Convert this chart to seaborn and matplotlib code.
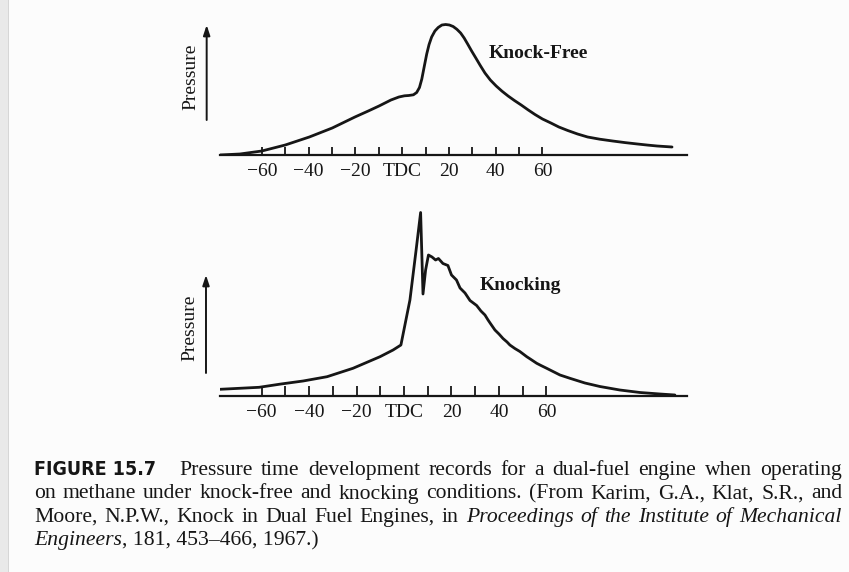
import matplotlib
matplotlib.use("Agg")
import matplotlib.pyplot as plt
from matplotlib import font_manager
from matplotlib.font_manager import FontProperties
import seaborn as sns
import pandas as pd
from matplotlib.patches import Rectangle

# ---------------- data ----------------
tick_positions = [-60, -50, -40, -30, -20, -10, 0, 10, 20, 30, 40, 50, 60]
tick_labels = ["\u221260", "", "\u221240", "", "\u221220", "", "TDC", "", "20", "", "40", "", "60"]

# knock-free pressure trace (crank angle deg, pressure in arbitrary units)
free_deg = [-78, -69.4, -60, -50, -39.7, -29.9, -20.2, -14.5, -9.9, -4.8, -1.4, 1.0,
            2.8, 4.8, 6.2, 7.4, 8.4, 9.4, 10.5, 11.5, 12.6, 14.0, 15.4, 17.0, 18.6,
            20.2, 21.8, 23.4, 25.0, 26.5, 28.0, 29.7, 31.5, 33.4, 35.4, 37.7, 40.2,
            42.7, 45.3, 48.0, 50.9, 53.8, 56.8, 60.0, 63.6, 67.0, 70.8, 75.0, 79.3,
            84.5, 90.0, 95.3, 100.6, 105.0, 109.0, 115.4]
free_p = [0, 1, 4, 10, 18, 27, 38, 44, 49, 55, 58, 59.2,
          59.5, 60.2, 62.5, 67.5, 76, 88, 101, 110.5, 118, 124, 127.5, 130, 130.5,
          130, 128.5, 125.7, 122, 117, 111, 104, 97, 89.5, 82, 75, 69,
          63.8, 59, 54.5, 50, 45.2, 40.5, 36, 32, 28, 24.5, 21, 18,
          15.8, 14, 12.4, 11, 9.9, 9, 8]

# knocking pressure trace
knock_deg = [-77.5, -61, -51.8, -42.5, -32.4, -21.5, -10.1, -4.6, -1.3, 2.5, 5.1, 7.0,
             8.0, 9.1, 10.3, 11.8, 13.3, 14.5, 16.4, 18.5, 20.0, 22.1, 23.6, 25.7,
             27.8, 30.6, 32.4, 34.1, 35.4, 36.4, 38.3, 40.0, 41.7, 43.4, 44.6, 46.7,
             48.8, 51.7, 53.5, 55.9, 57.7, 60.1, 65.7, 69.9, 76.2, 82.5, 90.9, 99.4,
             107.8, 114.1]
knock_p = [6.7, 8.7, 12, 15, 19.3, 27.7, 39.3, 46, 51, 96, 146, 183.5,
           102, 126, 141, 139, 136, 137.5, 132.5, 130.5, 121, 116, 108, 103,
           95.5, 90.5, 85, 81, 76, 72.5, 66, 62, 57.5, 54, 51, 47.5,
           44.5, 39.3, 36.5, 32.7, 30.5, 27.7, 21, 17.7, 13, 9.5, 6, 3.5,
           2, 1]

caption = [
    [("FIGURE 15.7", "fig")] + [(w, "n") for w in
        "Pressure time development records for a dual-fuel engine when operating".split()],
    [(w, "n") for w in
        "on methane under knock-free and knocking conditions. (From Karim, G.A., Klat, S.R., and".split()],
    [(w, "n") for w in "Moore, N.P.W., Knock in Dual Fuel Engines, in".split()]
    + [(w, "i") for w in "Proceedings of the Institute of Mechanical".split()],
    [("Engineers", "i"), (", 181, 453\u2013466, 1967.)", "n")],
]

# ---------------- style ----------------
sns.set_style("white")
plt.rcParams["font.family"] = ["Liberation Serif", "DejaVu Serif"]

W, H = 849, 572
INK = "#161616"
fig = plt.figure(figsize=(W / 100, H / 100), dpi=100, facecolor="#fcfcfc")

# page edge on the left
fig.patches.append(Rectangle((0, 0), 8 / W, 1, transform=fig.transFigure,
                             facecolor="#e9e9e9", edgecolor="none", zorder=0))
fig.patches.append(Rectangle((8 / W, 0), 1.2 / W, 1, transform=fig.transFigure,
                             facecolor="#d6d6d6", edgecolor="none", zorder=0))


def find_condensed_bold():
    best = None
    for f in font_manager.fontManager.ttflist:
        nm = (f.name + " " + str(f.fname)).lower()
        cond = ("condensed" in nm or "narrow" in nm or
                str(f.stretch) in ("condensed", "semi-condensed", "extra-condensed"))
        bold = (f.weight in ("bold", 700, 600, "semibold", "demibold") or
                "bold" in str(f.fname).lower())
        ital = f.style != "normal"
        if cond and bold and not ital and "serif" not in f.name.lower():
            best = f.fname
            if "sans" in nm:
                break
    return best


COND_PATH = find_condensed_bold()


def px_axes(left, right, base_y, height):
    return fig.add_axes([left / W, (H - base_y) / H, (right - left) / W, height / H])


def style_axes(ax, xlim, ylim, ticklen):
    ax.set_xlim(*xlim)
    ax.set_ylim(*ylim)
    ax.patch.set_alpha(0)
    for s in ["top", "right", "left"]:
        ax.spines[s].set_visible(False)
    ax.spines["bottom"].set_linewidth(1.6)
    ax.spines["bottom"].set_color(INK)
    ax.set_yticks([])
    ax.set_xticks(tick_positions)
    ax.set_xticklabels(tick_labels)
    ax.tick_params(axis="x", bottom=True, direction="in", length=ticklen, width=1.3,
                   color=INK, pad=5.5, labelsize=14, labelcolor=INK)
    ax.set_xlabel("")
    ax.set_ylabel("")


# ---- top panel: knock-free ----
ax1 = px_axes(220, 687, 155, 140)
df1 = pd.DataFrame({"deg": free_deg, "p": free_p})
sns.lineplot(data=df1, x="deg", y="p", ax=ax1, color=INK, lw=2.0, sort=False,
             estimator=None)
style_axes(ax1, (-77.9, 121.8), (0, 140), 6)
ax1.annotate("", xy=(-83.6, 130), xytext=(-83.6, 35), annotation_clip=False,
             arrowprops=dict(arrowstyle="-|>,head_length=0.6,head_width=0.2",
                             lw=1.4, color=INK, shrinkA=0, shrinkB=0))
ax1.text(-90.3, 78, "Pressure", rotation=90, ha="center", va="center",
         fontsize=14, color=INK, clip_on=False)
ax1.text(36.8, 102, "Knock-Free", ha="left", va="center", fontsize=14,
         fontweight="bold", color=INK)

# ---- bottom panel: knocking ----
ax2 = px_axes(220, 687, 396, 190)
df2 = pd.DataFrame({"deg": knock_deg, "p": knock_p})
sns.lineplot(data=df2, x="deg", y="p", ax=ax2, color=INK, lw=2.0, sort=False,
             estimator=None)
style_axes(ax2, (-77.5, 119.2), (0, 190), 7)
ax2.annotate("", xy=(-83.4, 121), xytext=(-83.4, 23), annotation_clip=False,
             arrowprops=dict(arrowstyle="-|>,head_length=0.6,head_width=0.2",
                             lw=1.4, color=INK, shrinkA=0, shrinkB=0))
ax2.text(-90.1, 68, "Pressure", rotation=90, ha="center", va="center",
         fontsize=14, color=INK, clip_on=False)
ax2.text(32.0, 110, "Knocking", ha="left", va="center", fontsize=14,
         fontweight="bold", color=INK)

# ---- caption, justified word by word ----
renderer = fig.canvas.get_renderer()
CAP_SIZE = 15.6
LEFT, RIGHT = 34, 842


def make_word(text, style, x, y):
    props = dict(fontsize=CAP_SIZE, color=INK, va="baseline", ha="left")
    if style == "fig":
        if COND_PATH:
            props.update(fontproperties=FontProperties(fname=COND_PATH, size=14))
            props.pop("fontsize")
        else:
            props.update(family=["Liberation Sans", "DejaVu Sans"], fontweight="bold",
                         fontsize=11.5)
    elif style == "i":
        props.update(family=["Liberation Serif"], style="italic")
    else:
        props.update(family=["Liberation Serif"])
    return fig.text(x / W, 1 - y / H, text, **props)


baselines = [475, 498.5, 522, 545.5]
for li, (line, base) in enumerate(zip(caption, baselines)):
    words = [make_word(t, s, 0, base) for t, s in line]
    widths = [w.get_window_extent(renderer).width for w in words]
    x0, x1 = LEFT, RIGHT
    start = 0
    if line[0][1] == "fig":
        words[0].set_x(LEFT / W)
        x0 = LEFT + widths[0] + 23
        start = 1
    ws = words[start:]
    wd = widths[start:]
    if li < 3:
        gap = (x1 - x0 - sum(wd)) / max(len(ws) - 1, 1)
    else:
        gap = 0
    x = x0
    for w, wdt in zip(ws, wd):
        w.set_x(x / W)
        x += wdt + gap

fig.savefig("out.png", dpi=100, facecolor=fig.get_facecolor())
